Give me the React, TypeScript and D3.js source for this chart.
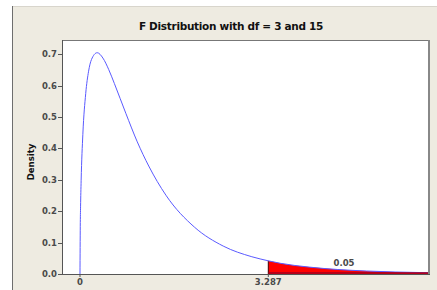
import React from "react";
import * as d3 from "d3";

const densX = [0, 0.005, 0.01, 0.02, 0.05, 0.1, 0.15, 0.2, 0.3, 0.4, 0.5, 0.6, 0.8, 1.0, 1.2, 1.5, 2.0, 2.5, 3.0, 3.287, 3.5, 4.0, 4.5, 5.0, 5.5, 6.0, 6.09];
const densY = [0, 0.152, 0.214, 0.297, 0.445, 0.575, 0.646, 0.683, 0.705, 0.688, 0.652, 0.607, 0.512, 0.421, 0.344, 0.251, 0.149, 0.089, 0.055, 0.042, 0.034, 0.022, 0.0143, 0.0095, 0.0064, 0.0044, 0.0041];
const yTicks = [0.0, 0.1, 0.2, 0.3, 0.4, 0.5, 0.6, 0.7];
const xTickVals = [0, 3.287];
const xTickLabels = ["0", "3.287"];
const critical = 3.287;
const tailLabel = "0.05";
const title = "F Distribution with df = 3 and 15";
const yLabel = "Density";

export default function App() {
  const W = 437, H = 290;
  const L = 62, R = 429, T = 40, B = 274;
  const x = d3.scaleLinear().domain([-0.314, 6.092]).range([L, R]);
  const y = d3.scaleLinear().domain([0, 0.7455]).range([B, T]);
  const pts = densX.map((v, i) => [v, densY[i]] as [number, number]);
  const line = d3.line<[number, number]>().x(d => x(d[0])).y(d => y(d[1])).curve(d3.curveMonotoneX);
  const tail = pts.filter(d => d[0] >= critical);
  const area = d3.area<[number, number]>().x(d => x(d[0])).y0(y(0)).y1(d => y(d[1])).curve(d3.curveMonotoneX);
  const tickFont = { fontFamily: "DejaVu Sans", fontSize: 8.5, fontWeight: 700, fill: "#4a4a4a" } as any;
  return (
    <svg width={W} height={H} style={{ position: "absolute", left: 0, top: 0, display: "block" }}>
      <rect x={0} y={0} width={W} height={H} fill="#ffffff" />
      <rect x={12} y={6} width={W - 12} height={H - 6} fill="#eeebe1" />
      <line x1={12} y1={6.5} x2={W} y2={6.5} stroke="#d8d5cc" />
      <line x1={12.5} y1={6} x2={12.5} y2={H} stroke="#6e6e6e" />
      <text x={231} y={30} textAnchor="middle" style={{ fontFamily: "DejaVu Sans", fontSize: 10.5, fontWeight: 700, fill: "#111", letterSpacing: -0.3 }}>{title}</text>
      <rect x={L} y={T} width={R - L} height={B - T} fill="#ffffff" />
      <path d={area(tail) || ""} fill="#ff0000" />
      <line x1={x(critical)} x2={x(critical)} y1={y(0)} y2={y(0.042)} stroke="#400000" strokeWidth={1} />
      <path d={line(pts) || ""} fill="none" stroke="#5a5aff" strokeWidth={1} />
      <line x1={x(critical)} x2={R} y1={B - 1} y2={B - 1} stroke="#a00020" strokeWidth={1.5} />
      <line x1={L} y1={T + 0.5} x2={R} y2={T + 0.5} stroke="#777" />
      <line x1={L + 0.5} y1={T} x2={L + 0.5} y2={B} stroke="#555" />
      <line x1={R} y1={T} x2={R} y2={B + 1} stroke="#888" strokeWidth={2} />
      <line x1={L} y1={B + 0.5} x2={R + 1} y2={B + 0.5} stroke="#555" />
      {yTicks.map(t => (
        <g key={t}>
          <line x1={L - 4} x2={L} y1={Math.round(y(t)) + 0.5} y2={Math.round(y(t)) + 0.5} stroke="#555" />
          <text x={L - 5} y={y(t) + 3} textAnchor="end" style={tickFont}>{t.toFixed(1)}</text>
        </g>
      ))}
      {xTickVals.map((t, i) => (
        <g key={t}>
          <line x1={x(t)} x2={x(t)} y1={B} y2={B + 3} stroke="#555" />
          <text x={x(t)} y={B + 11} textAnchor="middle" style={tickFont}>{xTickLabels[i]}</text>
        </g>
      ))}
      <text x={344} y={266} textAnchor="middle" style={tickFont}>{tailLabel}</text>
      <text transform={`translate(34,162) rotate(-90)`} textAnchor="middle" style={{ fontFamily: "DejaVu Sans", fontSize: 8.5, fontWeight: 700, fill: "#111" }}>{yLabel}</text>
    </svg>
  );
}
